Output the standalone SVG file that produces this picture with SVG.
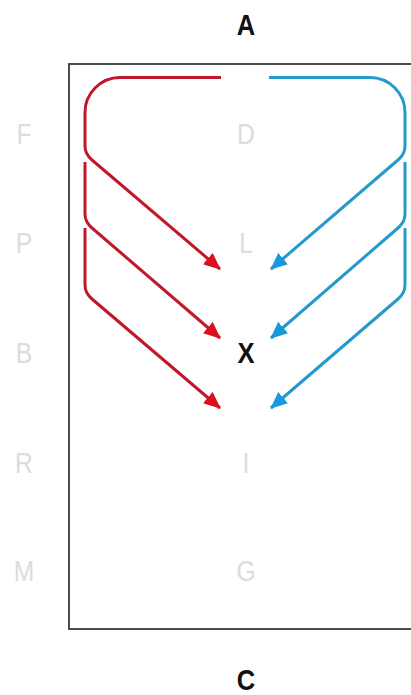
<svg xmlns="http://www.w3.org/2000/svg" width="411" height="695" viewBox="0 0 411 695">
<style>
.lbl{font-family:"Liberation Sans","Noto Sans",sans-serif;font-size:29px;text-anchor:middle}
.dim{fill:#dcdcdc}
.dark{fill:#111;font-weight:bold}
.red{fill:none;stroke:#c0182a;stroke-width:3;marker-end:url(#ar)}
.blue{fill:none;stroke:#2499cc;stroke-width:3;marker-end:url(#ab)}
</style>
<defs>
<marker id="ar" markerUnits="userSpaceOnUse" markerWidth="18" markerHeight="16" refX="16" refY="7.5" orient="auto">
<path d="M0,0 L17,7.5 L0,15 z" fill="#d81020"/>
</marker>
<marker id="ab" markerUnits="userSpaceOnUse" markerWidth="18" markerHeight="16" refX="16" refY="7.5" orient="auto">
<path d="M0,0 L17,7.5 L0,15 z" fill="#1a98dc"/>
</marker>
</defs>
<rect x="69" y="64" width="360" height="565" fill="#fff" stroke="#3a3a3a" stroke-width="1.8"/>
<g id="A"><text class="lbl dark" transform="translate(246,35) scale(0.88,1)">A</text></g>
<g id="C"><text class="lbl dark" transform="translate(246,690) scale(0.88,1)">C</text></g>
<g id="F"><text class="lbl dim" transform="translate(24,144) scale(0.85,1)">F</text></g>
<g id="P"><text class="lbl dim" transform="translate(24,253) scale(0.85,1)">P</text></g>
<g id="B"><text class="lbl dim" transform="translate(24,363) scale(0.85,1)">B</text></g>
<g id="R"><text class="lbl dim" transform="translate(24,473) scale(0.85,1)">R</text></g>
<g id="M"><text class="lbl dim" transform="translate(24,581) scale(0.85,1)">M</text></g>
<g id="D"><text class="lbl dim" transform="translate(246,144) scale(0.85,1)">D</text></g>
<g id="L"><text class="lbl dim" transform="translate(246,253) scale(0.85,1)">L</text></g>
<g id="X"><text class="lbl dark" transform="translate(246,363) scale(0.88,1)">X</text></g>
<g id="I"><text class="lbl dim" transform="translate(246,473) scale(0.85,1)">I</text></g>
<g id="G"><text class="lbl dim" transform="translate(246,581) scale(0.85,1)">G</text></g>
<g id="connectors">
<path class="red" d="M221,77.5 H120 A35,35 0 0 0 85,112.5 V146 Q85,154 92,160 L220,269"/>
<path class="red" d="M85,162 V214 Q85,222 92,228 L220,338"/>
<path class="red" d="M85,228 V285 Q85,293 92,299 L220,408"/>
<path class="blue" d="M269,77.5 H370 A35,35 0 0 1 405,112.5 V146 Q405,154 398,160 L271,269"/>
<path class="blue" d="M405,162 V214 Q405,222 398,228 L271,338"/>
<path class="blue" d="M405,228 V285 Q405,293 398,299 L271,408"/>
</g>
</svg>
